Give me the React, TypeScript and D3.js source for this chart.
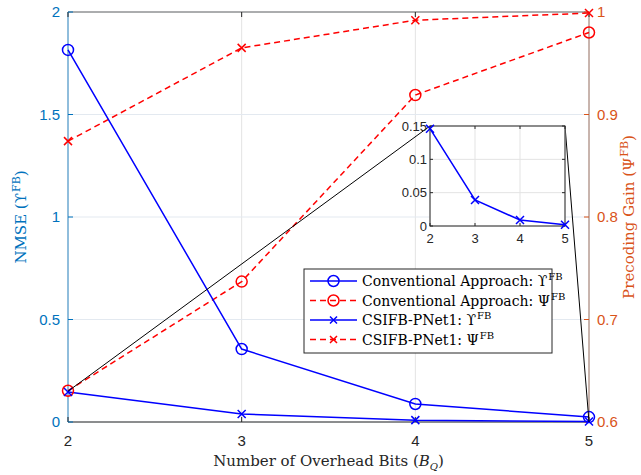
import React from "react";
import * as d3 from "d3";

const bits = [2, 3, 4, 5];
const convNmse = [1.815, 0.356, 0.088, 0.024];
const convGain = [0.6305, 0.737, 0.919, 0.98];
const netNmse = [0.146, 0.039, 0.009, 0.002];
const netGain = [0.874, 0.965, 0.992, 0.999];

const leftTicks = [0, 0.5, 1, 1.5, 2];
const rightTicks = [0.6, 0.7, 0.8, 0.9, 1];
const insetYTicks = [0, 0.05, 0.1, 0.15];

const BLUE = "#0000FF";
const RED = "#FF0000";
const AX_BLUE = "#0072BD";
const AX_ORANGE = "#D95319";
const TXT = "#262626";
const SERIF = "'DejaVu Serif', 'Liberation Serif', serif";
const SANS = "'Liberation Sans', Arial, sans-serif";

function Circle({ x, y, color }: { x: number; y: number; color: string }) {
  return <circle cx={x} cy={y} r={5.5} fill="none" stroke={color} strokeWidth={1.5} />;
}
function Cross({ x, y, color, s = 4 }: { x: number; y: number; color: string; s?: number }) {
  return (
    <path
      d={`M${x - s},${y - s}L${x + s},${y + s}M${x - s},${y + s}L${x + s},${y - s}`}
      stroke={color}
      strokeWidth={1.5}
    />
  );
}

export default function App() {
  const W = 641, H = 475;
  const L = 68, R = 589, T = 12, B = 422;
  const x = d3.scaleLinear().domain([2, 5]).range([L, R]);
  const yL = d3.scaleLinear().domain([0, 2]).range([B, T]);
  const yR = d3.scaleLinear().domain([0.6, 1]).range([B, T]);

  const lineL = d3.line<number>().x((_, i) => x(bits[i])).y((d) => yL(d));
  const lineR = d3.line<number>().x((_, i) => x(bits[i])).y((d) => yR(d));

  // inset
  const iL = 430, iR = 565, iT = 126, iB = 226;
  const ix = d3.scaleLinear().domain([2, 5]).range([iL, iR]);
  const iy = d3.scaleLinear().domain([0, 0.15]).range([iB, iT]);
  const lineI = d3.line<number>().x((_, i) => ix(bits[i])).y((d) => iy(d));

  const legRows = [
    { color: BLUE, dash: undefined, marker: "o", sym: "ϒ" },
    { color: RED, dash: "6,4", marker: "o", sym: "Ψ" },
    { color: BLUE, dash: undefined, marker: "x", sym: "ϒ" },
    { color: RED, dash: "6,4", marker: "x", sym: "Ψ" },
  ];
  const legNames = ["Conventional Approach:", "Conventional Approach:", "CSIFB-PNet1:", "CSIFB-PNet1:"];
  const lgX = 304, lgY = 269, lgW = 248, lgH = 84;

  return (
    <svg width={W} height={H} style={{ position: "absolute", left: 0, top: 0, background: "#fff" }}>
      <rect x={0} y={0} width={W} height={H} fill="#fff" />
      {/* grid */}
      {bits.map((b) => (
        <line key={"gx" + b} x1={x(b)} x2={x(b)} y1={T} y2={B} stroke="#e3e3e3" strokeWidth={1} />
      ))}
      {leftTicks.map((t) => (
        <line key={"gy" + t} x1={L} x2={R} y1={yL(t)} y2={yL(t)} stroke="#e3e9f0" strokeWidth={1} />
      ))}
      {/* axes */}
      <line x1={L} x2={R} y1={T} y2={T} stroke="#666" strokeWidth={1} />
      <line x1={L} x2={R} y1={B} y2={B} stroke={TXT} strokeWidth={1} />
      <line x1={L} x2={L} y1={T} y2={B} stroke={AX_BLUE} strokeWidth={1} opacity={0.8} />
      <line x1={R} x2={R} y1={T} y2={B} stroke="#a0786a" strokeWidth={1} />
      {bits.map((b) => (
        <g key={"xt" + b}>
          <line x1={x(b)} x2={x(b)} y1={B} y2={B - 5} stroke={TXT} />
          <line x1={x(b)} x2={x(b)} y1={T} y2={T + 5} stroke={TXT} />
          <text x={x(b)} y={B + 24} textAnchor="middle" fontFamily={SANS} fontSize={15} fill={TXT}>
            {b}
          </text>
        </g>
      ))}
      {leftTicks.map((t) => (
        <g key={"lt" + t}>
          <line x1={L} x2={L + 5} y1={yL(t)} y2={yL(t)} stroke={AX_BLUE} />
          <text x={L - 8} y={yL(t) + 5} textAnchor="end" fontFamily={SANS} fontSize={15} fill={AX_BLUE}>
            {t}
          </text>
        </g>
      ))}
      {rightTicks.map((t) => (
        <g key={"rt" + t}>
          <line x1={R} x2={R - 5} y1={yR(t)} y2={yR(t)} stroke={AX_ORANGE} />
          <text x={R + 8} y={yR(t) + 5} textAnchor="start" fontFamily={SANS} fontSize={15} fill={AX_ORANGE}>
            {t}
          </text>
        </g>
      ))}
      {/* axis labels */}
      <text
        transform={`translate(${26},${(T + B) / 2}) rotate(-90)`}
        textAnchor="middle"
        fontFamily={SERIF}
        fontSize={15}
        fill={AX_BLUE}
      >
        NMSE (ϒ<tspan dx={1} dy={-6} fontSize={11}>FB</tspan>
        <tspan dy={6}>)</tspan>
      </text>
      <text
        transform={`translate(${634},${(T + B) / 2}) rotate(-90)`}
        textAnchor="middle"
        fontFamily={SERIF}
        fontSize={15}
        fill={AX_ORANGE}
      >
        Precoding Gain (Ψ<tspan dx={1} dy={-6} fontSize={11}>FB</tspan>
        <tspan dy={6}>)</tspan>
      </text>
      <text x={(L + R) / 2} y={466} textAnchor="middle" fontFamily={SERIF} fontSize={15} fill={TXT}>
        Number of Overhead Bits (<tspan fontStyle="italic">B</tspan>
        <tspan dy={4} fontSize={10} fontStyle="italic">Q</tspan>
        <tspan dy={-4}>)</tspan>
      </text>

      {/* series */}
      <path d={lineR(convGain) || ""} fill="none" stroke={RED} strokeWidth={1.5} strokeDasharray="6,4" />
      <path d={lineR(netGain) || ""} fill="none" stroke={RED} strokeWidth={1.5} strokeDasharray="6,4" />
      <path d={lineL(convNmse) || ""} fill="none" stroke={BLUE} strokeWidth={1.5} />
      <path d={lineL(netNmse) || ""} fill="none" stroke={BLUE} strokeWidth={1.5} />
      {convGain.map((v, i) => (
        <Circle key={"cg" + i} x={x(bits[i])} y={yR(v)} color={RED} />
      ))}
      {netGain.map((v, i) => (
        <Cross key={"ng" + i} x={x(bits[i])} y={yR(v)} color={RED} />
      ))}
      {convNmse.map((v, i) => (
        <Circle key={"cn" + i} x={x(bits[i])} y={yL(v)} color={BLUE} />
      ))}
      {netNmse.map((v, i) => (
        <Cross key={"nn" + i} x={x(bits[i])} y={yL(v)} color={BLUE} />
      ))}

      {/* connectors */}
      <line x1={x(2)} y1={yL(0.15)} x2={iL} y2={iT} stroke="#000" strokeWidth={1} />
      <line x1={x(5)} y1={yL(0)} x2={iR} y2={iT} stroke="#000" strokeWidth={1} />

      {/* inset */}
      <rect x={iL} y={iT} width={iR - iL} height={iB - iT} fill="#fff" />
      {bits.map((b) => (
        <line key={"igx" + b} x1={ix(b)} x2={ix(b)} y1={iT} y2={iB} stroke="#e3e3e3" />
      ))}
      {insetYTicks.map((t) => (
        <line key={"igy" + t} x1={iL} x2={iR} y1={iy(t)} y2={iy(t)} stroke="#e3e3e3" />
      ))}
      <rect x={iL} y={iT} width={iR - iL} height={iB - iT} fill="none" stroke={TXT} strokeWidth={1} />
      {bits.map((b) => (
        <g key={"ixt" + b}>
          <line x1={ix(b)} x2={ix(b)} y1={iB} y2={iB - 3} stroke={TXT} />
          <line x1={ix(b)} x2={ix(b)} y1={iT} y2={iT + 3} stroke={TXT} />
          <text x={ix(b)} y={iB + 17} textAnchor="middle" fontFamily={SANS} fontSize={13} fill={TXT}>
            {b}
          </text>
        </g>
      ))}
      {insetYTicks.map((t) => (
        <g key={"iyt" + t}>
          <line x1={iL} x2={iL + 3} y1={iy(t)} y2={iy(t)} stroke={TXT} />
          <line x1={iR} x2={iR - 3} y1={iy(t)} y2={iy(t)} stroke={TXT} />
          <text x={iL - 3} y={iy(t) + 4.5} textAnchor="end" fontFamily={SANS} fontSize={13} fill={TXT}>
            {t}
          </text>
        </g>
      ))}
      <path d={lineI(netNmse) || ""} fill="none" stroke={BLUE} strokeWidth={1.5} />
      {netNmse.map((v, i) => (
        <Cross key={"in" + i} x={ix(bits[i])} y={iy(v)} color={BLUE} />
      ))}

      {/* legend */}
      <rect x={lgX} y={lgY} width={lgW} height={lgH} fill="#fff" stroke={TXT} strokeWidth={1} />
      {legRows.map((r, i) => {
        const cy = lgY + 12 + i * 19.5;
        return (
          <g key={"lg" + i}>
            <line x1={lgX + 6} x2={lgX + 53} y1={cy} y2={cy} stroke={r.color} strokeWidth={1.5} strokeDasharray={r.dash} />
            {r.marker === "o" ? (
              <Circle x={lgX + 29.5} y={cy} color={r.color} />
            ) : (
              <Cross x={lgX + 29.5} y={cy} color={r.color} s={3.5} />
            )}
            <text x={lgX + 58} y={cy + 5} fontFamily={SERIF} fontSize={14} fill="#000">
              {legNames[i]} {r.sym}
              <tspan dx={1} dy={-6} fontSize={10}>FB</tspan>
            </text>
          </g>
        );
      })}
    </svg>
  );
}
